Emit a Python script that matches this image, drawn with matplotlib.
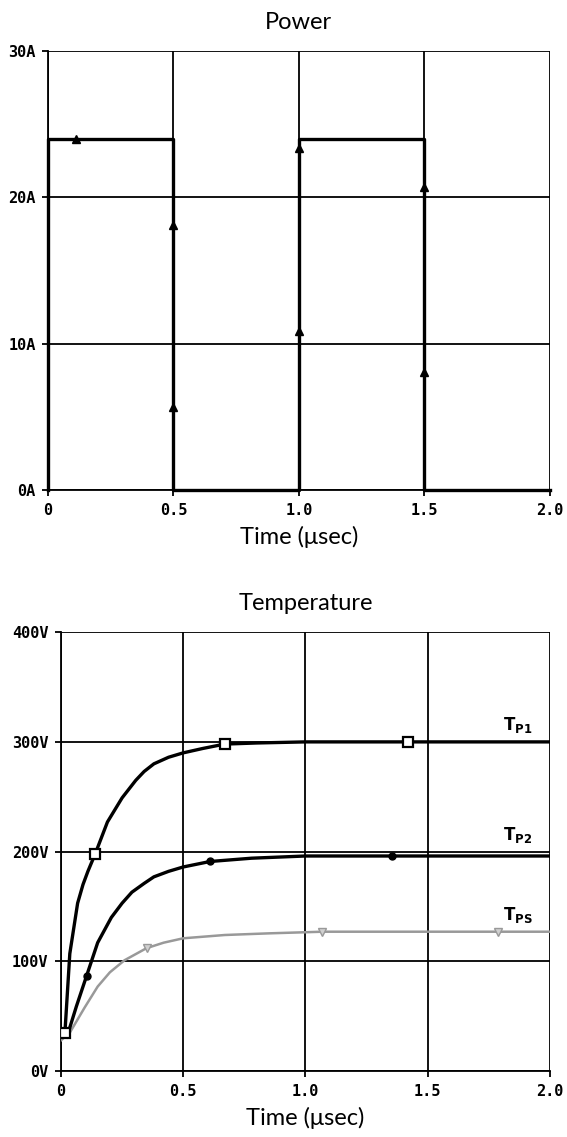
import matplotlib.pyplot as plt

# Power trace (A) vs time (usec)
power_t = [0, 0, 0.5, 0.5, 1.0, 1.0, 1.5, 1.5, 2.0]
power_a = [0, 24, 24, 0, 0, 24, 24, 0, 0]
power_mark_t = [0.11, 0.5, 0.5, 1.0, 1.0, 1.5, 1.5]
power_mark_a = [24, 18.1, 5.7, 23.4, 10.9, 20.7, 8.1]

# Temperature traces (V) vs time (usec)
tp1_t = [0.016, 0.036, 0.068, 0.09, 0.11, 0.14, 0.19, 0.25, 0.306, 0.34, 0.38, 0.44,
         0.5, 0.58, 0.67, 0.8, 1.0, 1.42, 2.0]
tp1_v = [35, 107, 153, 170, 182, 198, 227, 249, 265, 273, 280, 286,
         290, 294, 298, 299, 300, 300, 300]
tp1_mark_t = [0.016, 0.14, 0.67, 1.42]
tp1_mark_v = [35, 198, 298, 300]

tp2_t = [0.024, 0.063, 0.105, 0.15, 0.206, 0.25, 0.29, 0.34, 0.38, 0.44, 0.5, 0.61,
         0.78, 1.0, 1.355, 2.0]
tp2_v = [31, 59, 87, 117, 140, 153, 163, 171, 177, 182, 186, 191,
         194, 196, 196, 196]
tp2_mark_t = [0.105, 0.61, 1.355]
tp2_mark_v = [87, 191, 196]

tps_t = [0.0, 0.036, 0.097, 0.15, 0.2, 0.26, 0.35, 0.42, 0.5, 0.67, 0.85, 1.07, 1.79, 2.0]
tps_v = [28, 35, 58, 77, 90, 101, 112, 117, 121, 124, 125.5, 127, 127, 127]
tps_mark_t = [0.35, 1.07, 1.79]
tps_mark_v = [112, 127, 127]

xticks = [0, 0.5, 1.0, 1.5, 2.0]
xtick_labels = ['0', '0.5', '1.0', '1.5', '2.0']
power_ticks = [0, 10, 20, 30]
power_labels = ['0A', '10A', '20A', '30A']
temp_ticks = [0, 100, 200, 300, 400]
temp_labels = ['0V', '100V', '200V', '300V', '400V']

fig = plt.figure(figsize=(5.67, 11.37), dpi=100)
ax1 = fig.add_axes([0.0847, 0.569, 0.885, 0.386])
ax2 = fig.add_axes([0.1076, 0.058, 0.862, 0.386])

tick_font = dict(family='DejaVu Sans Mono', weight='bold', size=11)
title_font = dict(family='Lato', size=17)


def style(ax, yticks, ylabels, ymax):
    ax.set_xlim(0, 2.0)
    ax.set_ylim(0, ymax)
    ax.set_xticks(xticks)
    ax.set_xticklabels(xtick_labels, **tick_font)
    ax.set_yticks(yticks)
    ax.set_yticklabels(ylabels, **tick_font)
    ax.grid(True, color='black', linewidth=1.3)
    ax.set_axisbelow(True)
    for s in ['top', 'right']:
        ax.spines[s].set_visible(False)
    for s in ['left', 'bottom']:
        ax.spines[s].set_linewidth(1.3)
    ax.tick_params(direction='out', length=4, width=1.3, pad=5)
    ax.set_xlabel('Time (\u03bcsec)', fontdict=title_font, labelpad=6)


# Power
ax1.plot(power_t, power_a, color='black', linewidth=2.4, clip_on=False, zorder=3)
ax1.plot(power_mark_t, power_mark_a, '^', color='black', markersize=6, zorder=4)
style(ax1, power_ticks, power_labels, 30)
ax1.set_title('Power', fontdict=title_font, pad=16)

# Temperature
ax2.plot(tps_t, tps_v, color='#999999', linewidth=1.8, zorder=3)
ax2.plot(tps_mark_t, tps_mark_v, 'v', color='#999999', markerfacecolor='#d0d0d0',
         markersize=6, zorder=4)
ax2.plot(tp2_t, tp2_v, color='black', linewidth=2.4, zorder=3)
ax2.plot(tp2_mark_t, tp2_mark_v, 'o', color='black', markersize=5, zorder=4)
ax2.plot(tp1_t, tp1_v, color='black', linewidth=2.4, zorder=3)
ax2.plot(tp1_mark_t, tp1_mark_v, 's', color='black', markerfacecolor='white',
         markeredgewidth=1.6, markersize=7, zorder=4)
style(ax2, temp_ticks, temp_labels, 400)
ax2.set_title('Temperature', fontdict=title_font, pad=16)

lab = dict(fontsize=12, fontweight='bold', ha='left', va='bottom', family='DejaVu Sans')
ax2.text(1.81, 306, r'T$_{\mathbf{P1}}$', **lab)
ax2.text(1.81, 206, r'T$_{\mathbf{P2}}$', **lab)
ax2.text(1.81, 133, r'T$_{\mathbf{PS}}$', **lab)

fig.savefig('out.png', dpi=100)
